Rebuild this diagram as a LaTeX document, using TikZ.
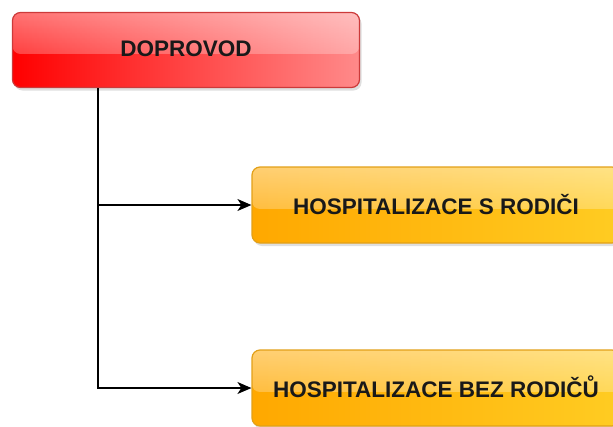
\documentclass[tikz,border=0pt]{standalone}
\usepackage{fontspec}
\setmainfont{Liberation Sans}
\usepackage{tikz}
\usetikzlibrary{arrows.meta,shadows,fadings}
\tikzfading[name=glossfade, top color=transparent!25, bottom color=transparent!85]
\definecolor{redleft}{HTML}{FF0000}
\definecolor{redright}{HTML}{FF8A8A}
\definecolor{redborder}{HTML}{CC3A3A}
\definecolor{orleft}{HTML}{FFA800}
\definecolor{orright}{HTML}{FFCC22}
\definecolor{orborder}{HTML}{E2A018}
\tikzset{
  box/.style={rectangle, rounded corners=8pt, line width=1.2pt, inner sep=0pt,
              font=\fontsize{22.5}{26}\selectfont\bfseries, text=black!90,
              drop shadow={shadow xshift=2pt, shadow yshift=-3pt, opacity=.25},
              path picture={\fill[white, opacity=.6, path fading=glossfade]
                (path picture bounding box.north west) rectangle ([yshift=-4pt]path picture bounding box.east);}},
  redbox/.style={box, draw=redborder, left color=redleft, right color=redright,
                 minimum width=347pt, minimum height=75pt},
  orangebox/.style={box, draw=orborder, left color=orleft, right color=orright,
                    minimum width=368pt, minimum height=76pt},
  fwd/.style={-{Stealth[length=14pt,width=12pt,inset=4pt]}, line width=1.2pt},
}

\begin{document}
\begin{tikzpicture}[x=1pt, y=-1pt]
\useasboundingbox (0,0) rectangle (613,426);
\clip (0,0) rectangle (613,426);
%Nodes
\node[redbox] (doprovod) at (186,50) {\raisebox{3pt}{DOPROVOD}};
\node[orangebox] (rodici) at (436,205) {\raisebox{2pt}{HOSPITALIZACE S RODIČI}};
\node[orangebox] (bezrodicu) at (436,388) {\raisebox{2pt}{HOSPITALIZACE BEZ RODIČŮ}};

%Lines
\draw[fwd] ([xshift=-88pt]doprovod.south) |- (rodici.west);
\draw[fwd] ([xshift=-88pt]doprovod.south) |- (bezrodicu.west);
\end{tikzpicture}
\end{document}
